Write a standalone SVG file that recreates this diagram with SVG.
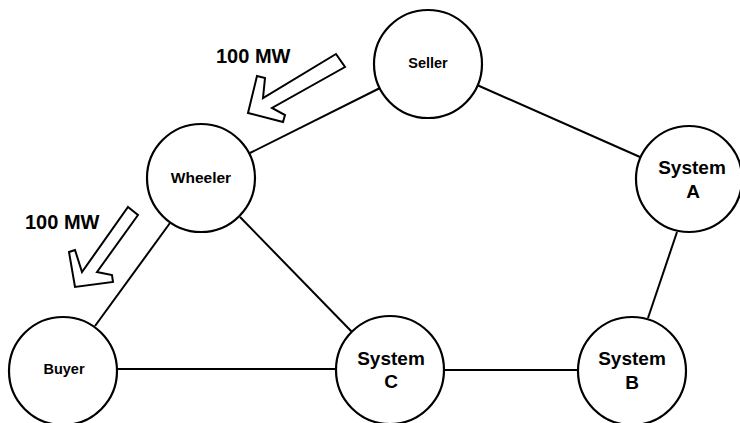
<svg xmlns="http://www.w3.org/2000/svg" width="740" height="423" viewBox="0 0 740 423">
  <style>
    .node { fill: #ffffff; stroke: #000000; stroke-width: 2.2; }
    .edge { stroke: #000000; stroke-width: 2; fill: none; }
    .flow { fill: #ffffff; stroke: #000000; stroke-width: 2; stroke-linejoin: miter; }
    .lbl { font-family: "Liberation Sans", Arial, sans-serif; font-weight: bold; fill: #000000; text-anchor: middle; }
    .small { font-size: 14.5px; }
    .big { font-size: 19px; }
    .mw { font-family: "Liberation Sans", Arial, sans-serif; font-weight: bold; font-size: 20px; fill: #000000; }
  </style>
  <rect x="0" y="0" width="740" height="423" fill="#ffffff"/>

  <g id="connectors">
    <line class="edge" x1="380" y1="88" x2="250" y2="153"/>
    <line class="edge" x1="477" y1="85" x2="640" y2="157"/>
    <line class="edge" x1="677" y1="232" x2="648" y2="318"/>
    <line class="edge" x1="444" y1="370" x2="578" y2="370"/>
    <line class="edge" x1="117" y1="369" x2="336" y2="369"/>
    <line class="edge" x1="170" y1="223" x2="95" y2="326"/>
    <line class="edge" x1="240" y1="217" x2="352" y2="332"/>
  </g>

  <g id="flow-arrows">
    <g id="flow-seller-wheeler">
      <polygon class="flow" points="336,54 345,67 272,108 285,115 283,122 248,113 257,76 265,78 263,98"/>
      <text class="mw" x="216" y="63">100 MW</text>
    </g>
    <g id="flow-wheeler-buyer">
      <polygon class="flow" points="128,207 138,215 97,272 112,275 113,282 75,287 69,252 75,250 82,272"/>
      <text class="mw" x="25" y="229">100 MW</text>
    </g>
  </g>

  <g id="node-seller">
    <circle class="node" cx="428" cy="64" r="54"/>
    <text class="lbl small" x="428" y="68">Seller</text>
  </g>
  <g id="node-wheeler">
    <circle class="node" cx="201" cy="178" r="54"/>
    <text class="lbl small" x="201" y="183" style="font-size:15.5px">Wheeler</text>
  </g>
  <g id="node-system-a">
    <circle class="node" cx="689" cy="179" r="53"/>
    <text class="lbl big" x="692" y="174">System</text>
    <text class="lbl big" x="693" y="198">A</text>
  </g>
  <g id="node-buyer">
    <circle class="node" cx="63" cy="371" r="54"/>
    <text class="lbl small" x="64" y="374">Buyer</text>
  </g>
  <g id="node-system-c">
    <circle class="node" cx="390" cy="370" r="54"/>
    <text class="lbl big" x="391" y="365">System</text>
    <text class="lbl big" x="391" y="388">C</text>
  </g>
  <g id="node-system-b">
    <circle class="node" cx="632" cy="371" r="54"/>
    <text class="lbl big" x="632" y="365">System</text>
    <text class="lbl big" x="632" y="389">B</text>
  </g>
</svg>
